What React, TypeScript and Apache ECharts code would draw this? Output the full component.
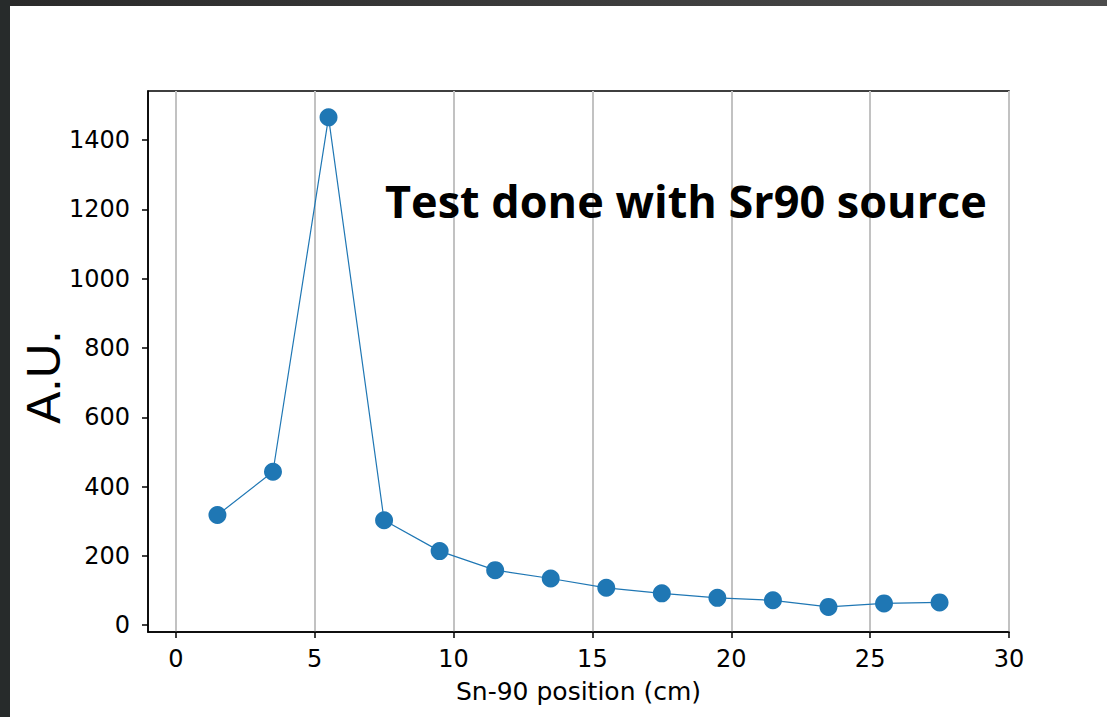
import React, { useEffect, useRef } from "react";
import * as echarts from "echarts";

const positions = [1.5, 3.5, 5.5, 7.5, 9.5, 11.5, 13.5, 15.5, 17.5, 19.5, 21.5, 23.5, 25.5, 27.5];
const values = [318, 443, 1466, 303, 214, 159, 135, 108, 92, 79, 72, 53, 63, 66];
const xTicks = [0, 5, 10, 15, 20, 25, 30];
const yTicks = [0, 200, 400, 600, 800, 1000, 1200, 1400];
const xLabel = "Sn-90 position (cm)";
const yLabel = "A.U.";
const note = "Test done with Sr90 source";

export default function App() {
  const ref = useRef<HTMLDivElement>(null);
  useEffect(() => {
    if (!ref.current) return;
    const chart = echarts.init(ref.current, undefined, { renderer: "svg" });
    const tickFont = { fontFamily: "DejaVu Sans", fontSize: 24, color: "#000" };
    chart.setOption({
      animation: false,
      backgroundColor: "#fff",
      grid: {
        left: 148,
        top: 91,
        width: 861,
        height: 541,
        show: true,
        borderColor: "#000",
        borderWidth: 1.5,
        containLabel: false,
      },
      xAxis: {
        type: "value",
        min: -1,
        max: 30,
        axisLine: { show: true, onZero: false, lineStyle: { color: "#000", width: 1.5 } },
        axisTick: { show: true, length: 6, lineStyle: { color: "#000", width: 1.5 }, customValues: xTicks },
        axisLabel: { ...tickFont, margin: 15, customValues: xTicks, formatter: (v: number) => String(v) },
        splitLine: { show: true, lineStyle: { color: "#c2c2c2", width: 2 } },
        name: xLabel,
        nameLocation: "middle",
        nameGap: 47,
        nameTextStyle: { fontFamily: "DejaVu Sans", fontSize: 25, color: "#000" },
      },
      yAxis: {
        type: "value",
        min: -19.5,
        max: 1542,
        axisLine: { show: true, onZero: false, lineStyle: { color: "#000", width: 1.5 } },
        axisTick: { show: true, length: 6, lineStyle: { color: "#000", width: 1.5 }, customValues: yTicks },
        axisLabel: { ...tickFont, margin: 18, customValues: yTicks, formatter: (v: number) => String(v) },
        splitLine: { show: false },
      },
      series: [
        {
          type: "line",
          data: positions.map((p, i) => [p, values[i]]),
          symbol: "circle",
          symbolSize: 18,
          itemStyle: { color: "#1f77b4" },
          lineStyle: { color: "#1f77b4", width: 1.2 },
          z: 3,
        },
      ],
      graphic: [
        {
          type: "rect",
          shape: { x: 0, y: 0, width: 1107, height: 6 },
          style: {
            fill: new echarts.graphic.LinearGradient(0, 0, 1, 0, [
              { offset: 0, color: "#2a2a2a" },
              { offset: 1, color: "#4c4c4c" },
            ]),
          },
          z: 10,
        },
        {
          type: "rect",
          shape: { x: 0, y: 0, width: 10, height: 717 },
          style: { fill: "#272b2b" },
          z: 10,
        },
        {
          type: "text",
          x: 43,
          y: 377,
          rotation: Math.PI / 2,
          style: {
            text: yLabel,
            fontFamily: "Liberation Sans",
            fontSize: 48,
            fill: "#000",
            align: "center",
            verticalAlign: "middle",
          },
        },
        {
          type: "text",
          x: 385,
          y: 200,
          style: {
            text: note,
            fontFamily: "Open Sans",
            fontWeight: "bold",
            fontSize: 45,
            fill: "#000",
            align: "left",
            verticalAlign: "middle",
          },
          z: 5,
        },
      ],
    });
    return () => chart.dispose();
  }, []);
  return (
    <div
      ref={ref}
      style={{ position: "fixed", left: 0, top: 0, width: 1107, height: 717 }}
    />
  );
}
